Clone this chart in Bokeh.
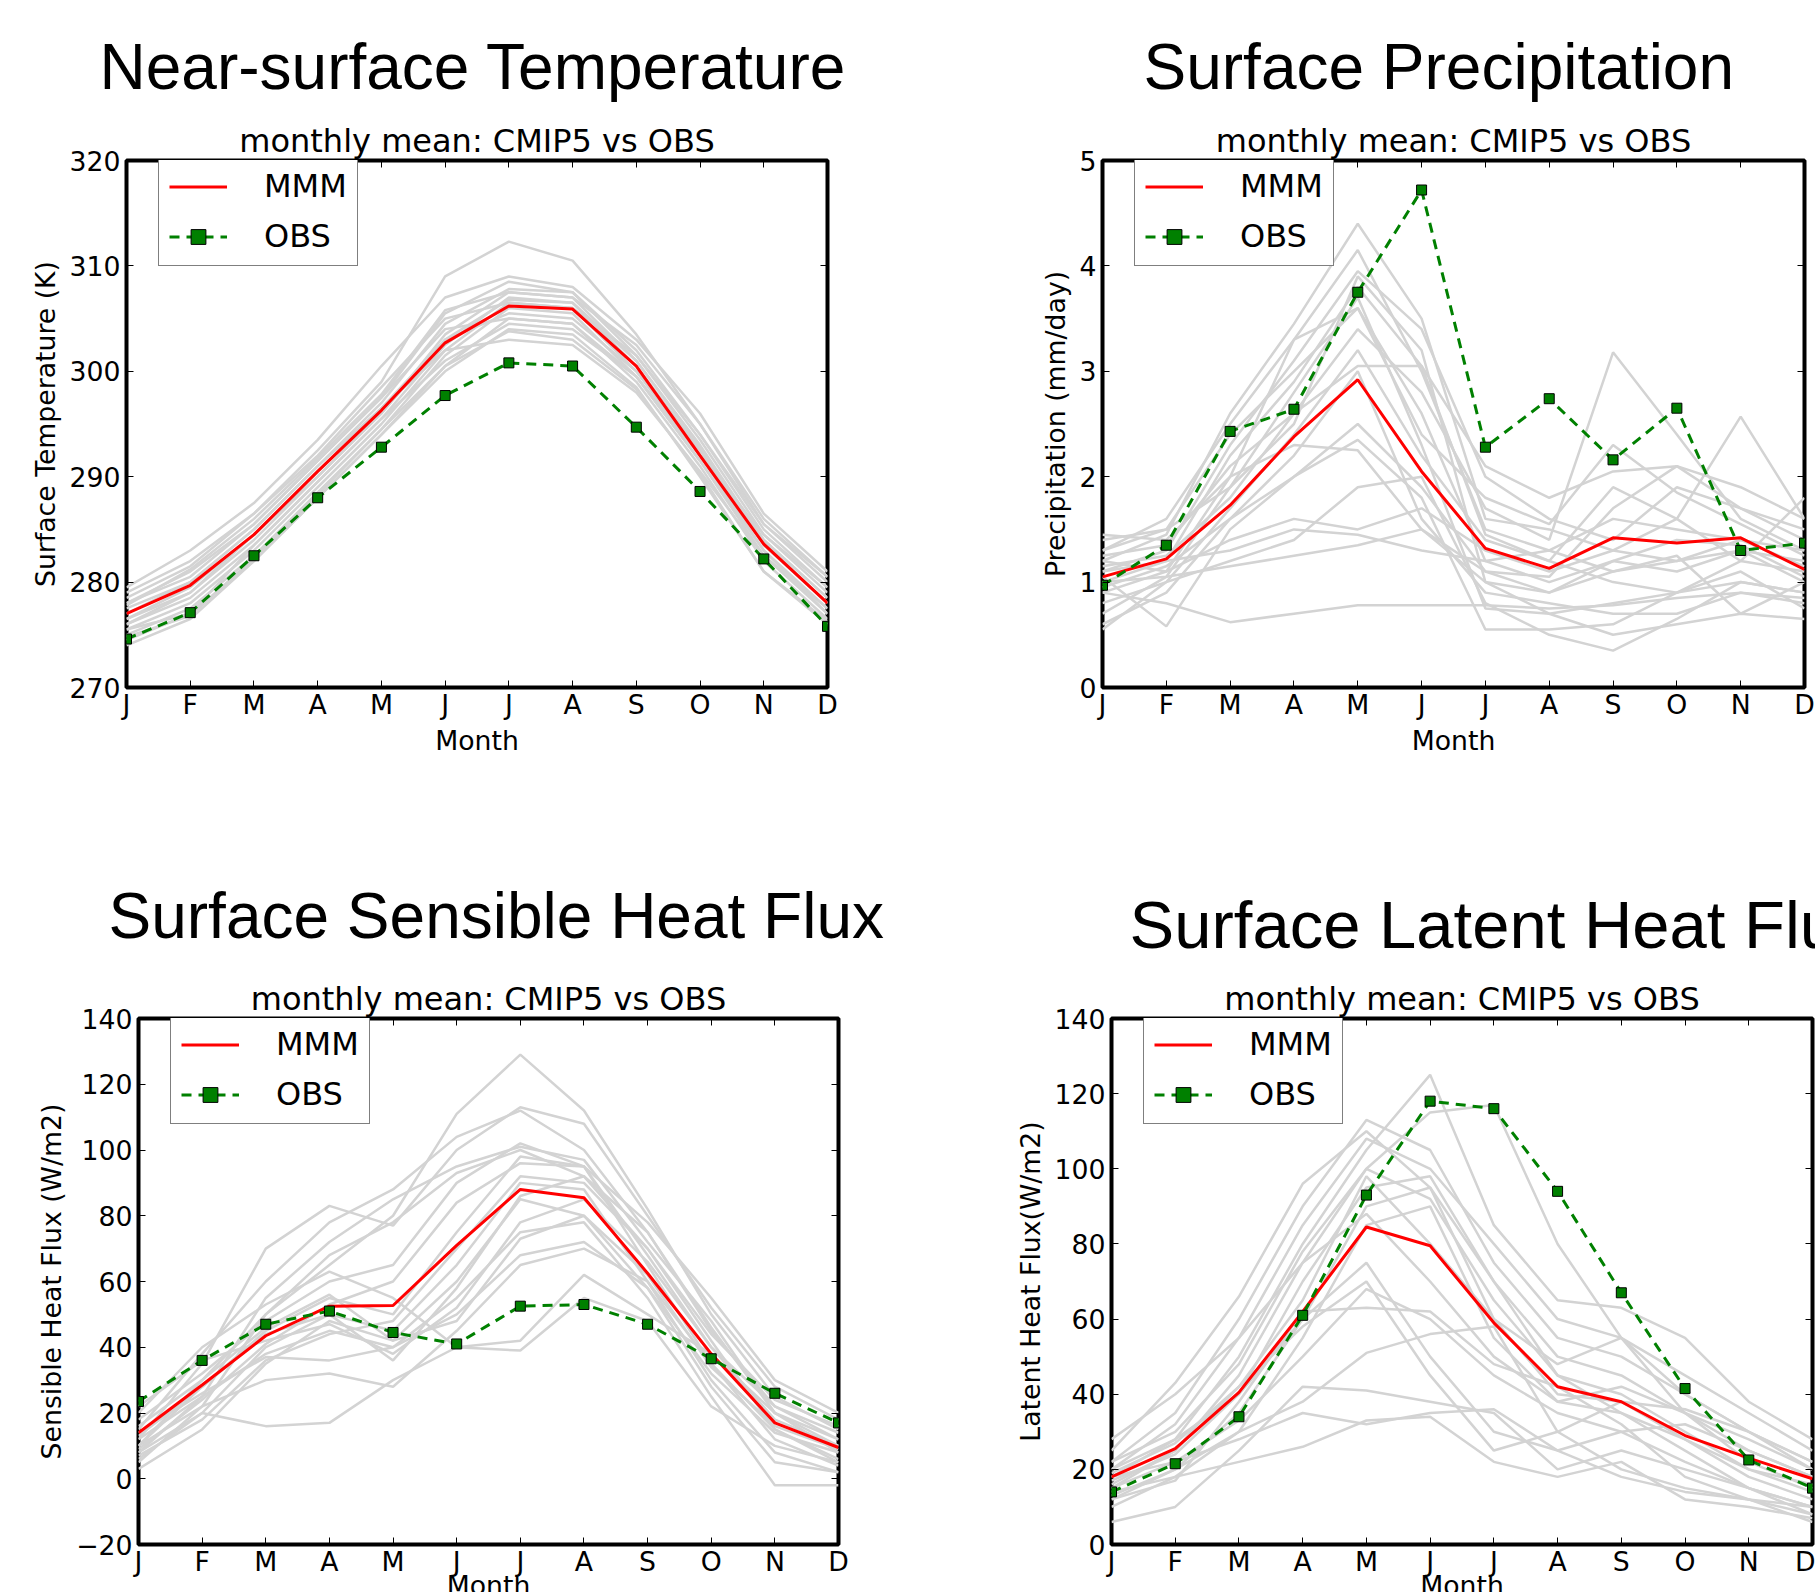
from bokeh.plotting import figure
from bokeh.models import Range1d, FixedTicker, LinearAxis, Legend, LegendItem, Title
from bokeh.layouts import column, row
from bokeh.embed import file_html
from bokeh.resources import INLINE

# ---------------- data ----------------
month_labels = ["J", "F", "M", "A", "M", "J", "J", "A", "S", "O", "N", "D"]
months = list(range(12))

# Near-surface temperature (K)
tas_mmm = [277.0, 279.7, 284.5, 290.5, 296.3, 302.7, 306.2, 305.9, 300.5, 292.0, 283.6, 278.0]
tas_obs = [274.6, 277.1, 282.5, 288.0, 292.8, 297.7, 300.8, 300.5, 294.7, 288.6, 282.2, 275.8]
tas_models = [
    [278.5, 281.5, 286.5, 292.5, 299.0, 309.0, 312.3, 310.5, 303.5, 295.0, 285.5, 280.0],
    [279.5, 283.0, 287.5, 293.5, 300.5, 307.0, 309.0, 308.0, 303.0, 296.0, 286.5, 281.0],
    [278.0, 280.5, 285.5, 291.5, 297.5, 305.5, 308.5, 307.5, 302.0, 294.0, 285.0, 279.5],
    [277.5, 280.0, 285.0, 291.0, 297.0, 304.5, 307.8, 307.5, 301.5, 293.5, 284.5, 279.0],
    [276.5, 279.0, 284.0, 290.0, 296.0, 303.5, 307.5, 307.0, 301.0, 293.0, 284.0, 278.5],
    [276.0, 278.5, 283.5, 289.5, 295.5, 302.5, 307.0, 306.5, 300.5, 292.5, 283.5, 278.0],
    [275.5, 278.0, 283.0, 289.0, 295.0, 302.0, 306.5, 306.0, 300.0, 292.0, 283.0, 277.5],
    [275.0, 277.5, 282.5, 288.5, 294.5, 301.5, 306.0, 305.5, 299.5, 291.5, 282.5, 277.0],
    [274.5, 277.0, 282.0, 288.0, 294.0, 300.5, 305.0, 304.5, 299.0, 291.0, 282.0, 276.5],
    [274.0, 276.5, 282.0, 288.0, 294.0, 300.0, 304.0, 303.5, 298.5, 290.0, 281.0, 276.0],
    [277.0, 280.0, 285.0, 291.0, 296.5, 303.0, 305.5, 305.0, 300.0, 292.5, 284.0, 278.5],
    [278.0, 281.0, 285.5, 291.5, 297.5, 304.0, 305.0, 304.5, 299.5, 292.0, 284.5, 279.5],
    [276.0, 279.0, 284.5, 290.5, 296.5, 302.0, 303.0, 302.5, 298.0, 290.5, 282.5, 277.5],
    [279.0, 282.0, 286.5, 292.0, 298.5, 305.0, 306.5, 306.0, 301.5, 294.0, 285.5, 280.5],
    [275.5, 277.0, 283.5, 289.5, 295.5, 301.0, 304.5, 304.0, 299.5, 291.5, 283.0, 277.0],
    [276.5, 279.5, 284.5, 290.0, 296.0, 303.0, 306.8, 306.5, 301.0, 292.8, 283.8, 278.0],
    [274.8, 276.8, 282.3, 288.3, 294.5, 300.5, 303.8, 303.0, 298.3, 290.3, 281.0, 276.3],
    [277.8, 281.2, 286.0, 291.8, 297.8, 305.8, 307.5, 307.0, 302.5, 295.0, 286.0, 280.5],
]

# Surface precipitation (mm/day)
pr_mmm = [1.05, 1.22, 1.73, 2.38, 2.92, 2.05, 1.32, 1.13, 1.42, 1.37, 1.42, 1.12]
pr_obs = [0.97, 1.35, 2.43, 2.64, 3.75, 4.72, 2.28, 2.74, 2.16, 2.65, 1.30, 1.37]
pr_models = [
    [1.20, 1.45, 2.60, 3.45, 4.40, 3.50, 1.60, 1.50, 1.30, 1.20, 1.30, 1.20],
    [1.30, 1.60, 2.50, 3.30, 4.15, 3.00, 1.50, 1.30, 1.60, 1.50, 1.40, 1.30],
    [1.10, 1.30, 2.30, 3.10, 3.95, 3.40, 2.00, 1.60, 1.40, 1.90, 1.70, 1.50],
    [1.00, 1.20, 2.20, 2.90, 3.80, 3.05, 2.10, 1.80, 2.05, 2.10, 1.90, 1.60],
    [0.90, 1.10, 2.00, 3.30, 3.60, 2.60, 1.20, 1.00, 1.20, 1.10, 1.30, 1.00],
    [1.40, 1.50, 1.90, 2.80, 3.70, 2.30, 0.75, 0.70, 0.80, 0.90, 1.00, 0.90],
    [1.15, 1.25, 1.80, 2.60, 3.40, 2.80, 1.70, 1.40, 3.18, 2.40, 1.60, 1.30],
    [0.80, 1.00, 1.70, 2.40, 3.20, 2.20, 1.40, 1.20, 1.00, 0.90, 1.20, 1.10],
    [0.60, 0.90, 1.60, 2.20, 3.00, 1.60, 0.90, 0.80, 0.70, 0.70, 0.90, 0.80],
    [1.05, 0.58, 1.50, 2.00, 2.50, 1.90, 1.10, 0.90, 1.10, 1.20, 1.40, 1.15],
    [1.20, 1.10, 1.40, 1.60, 1.50, 1.70, 1.30, 1.10, 1.30, 1.60, 2.57, 1.60],
    [0.55, 1.00, 1.20, 1.40, 1.90, 2.00, 0.80, 0.50, 0.35, 0.65, 1.00, 0.90],
    [0.90, 0.80, 0.62, 0.70, 0.78, 0.78, 0.78, 0.75, 0.78, 0.85, 0.90, 0.85],
    [1.00, 1.05, 1.15, 1.25, 1.35, 1.50, 1.00, 0.70, 0.50, 0.60, 0.70, 0.65],
    [1.45, 1.40, 2.00, 2.30, 2.25, 1.50, 1.10, 1.05, 1.70, 2.10, 1.70, 1.40],
    [1.25, 1.35, 2.10, 2.60, 3.05, 3.05, 1.45, 1.20, 1.90, 1.60, 1.20, 1.80],
    [0.95, 1.15, 1.60, 2.00, 2.35, 1.80, 0.55, 0.55, 0.60, 0.90, 1.10, 0.75],
    [1.30, 1.50, 2.40, 3.00, 3.60, 2.40, 1.80, 1.55, 2.30, 1.85, 1.55, 1.25],
    [1.10, 1.20, 1.30, 1.50, 1.45, 1.30, 1.20, 1.30, 1.10, 1.25, 0.70, 1.00],
    [0.70, 1.05, 1.90, 2.50, 3.90, 3.20, 1.00, 0.90, 1.20, 1.40, 1.35, 1.05],
]

# Surface sensible heat flux (W/m2)
hfss_mmm = [14.0, 28.5, 43.5, 52.5, 52.7, 71.0, 88.0, 85.5, 62.5, 38.0, 17.0, 9.5]
hfss_obs = [23.5, 36.0, 47.0, 51.0, 44.5, 41.0, 52.5, 53.0, 47.0, 36.5, 26.0, 17.0]
hfss_models = [
    [10, 30, 50, 65, 80, 111, 129, 112, 82, 50, 25, 15],
    [12, 35, 70, 83, 77, 100, 113, 108, 80, 52, 28, 18],
    [15, 38, 60, 78, 88, 104, 112, 100, 75, 45, 22, 12],
    [8, 25, 55, 72, 85, 95, 101, 97, 72, 48, 20, 8],
    [5, 22, 50, 68, 78, 93, 100, 92, 70, 42, 15, 5],
    [18, 32, 48, 60, 65, 90, 102, 95, 68, 40, 18, 10],
    [10, 28, 45, 55, 50, 75, 98, 95, 65, 35, 12, 4],
    [6, 20, 40, 50, 45, 65, 90, 88, 60, 30, 8, 2],
    [3, 15, 35, 48, 42, 60, 85, 80, 58, 28, 5, 2],
    [12, 25, 38, 45, 40, 55, 75, 78, 55, 25, -2, -2],
    [20, 40, 53, 63, 55, 40, 39, 55, 48, 22, 10, 5],
    [8, 20, 16, 17, 30, 40, 42, 62, 50, 38, 20, 12],
    [14, 26, 37, 36, 40, 50, 68, 72, 58, 32, 14, 8],
    [10, 22, 30, 32, 28, 45, 65, 70, 60, 35, 15, 6],
    [16, 30, 46, 56, 42, 48, 73, 80, 62, 34, 16, 9],
    [22, 36, 42, 47, 38, 52, 78, 85, 66, 40, 22, 14],
    [7, 18, 36, 44, 48, 70, 92, 90, 70, 44, 24, 16],
    [13, 28, 44, 50, 36, 58, 86, 92, 75, 46, 20, 10],
    [9, 24, 41, 53, 60, 84, 96, 95, 78, 55, 30, 20],
]

# Surface latent heat flux (W/m2)
hfls_mmm = [18.0, 25.5, 40.5, 62.0, 84.5, 79.5, 59.0, 42.0, 38.0, 29.0, 23.0, 17.5]
hfls_obs = [14.0, 21.5, 34.0, 61.0, 93.0, 118.0, 116.0, 94.0, 67.0, 41.5, 22.5, 15.0]
hfls_models = [
    [22, 35, 60, 90, 113, 105, 75, 55, 50, 40, 30, 22],
    [25, 43, 66, 96, 110, 95, 70, 50, 45, 35, 25, 18],
    [20, 32, 55, 85, 108, 100, 80, 60, 55, 45, 35, 25],
    [18, 28, 50, 80, 105, 125, 85, 65, 63, 55, 38, 28],
    [15, 25, 45, 75, 100, 115, 117, 80, 55, 35, 22, 15],
    [17, 24, 40, 70, 95, 98, 70, 45, 40, 30, 20, 14],
    [12, 20, 35, 60, 90, 95, 60, 40, 38, 28, 18, 12],
    [10, 18, 30, 55, 85, 90, 55, 38, 35, 25, 15, 10],
    [28, 40, 55, 75, 88, 70, 50, 38, 42, 35, 28, 20],
    [15, 22, 33, 50, 68, 60, 45, 35, 30, 22, 15, 10],
    [6, 10, 25, 42, 41, 38, 35, 20, 25, 20, 15, 8],
    [13, 20, 30, 38, 51, 56, 58, 30, 20, 15, 12, 8],
    [18, 22, 28, 35, 32, 35, 36, 25, 18, 14, 12, 6],
    [14, 18, 22, 26, 33, 34, 22, 18, 22, 12, 10, 7],
    [20, 28, 40, 60, 75, 50, 30, 25, 30, 32, 25, 18],
    [16, 25, 42, 65, 98, 80, 60, 48, 55, 40, 30, 20],
    [12, 17, 38, 62, 63, 62, 48, 42, 32, 18, 12, 10],
    [22, 30, 48, 78, 100, 92, 65, 45, 35, 28, 20, 16],
    [19, 27, 42, 58, 70, 45, 25, 30, 38, 36, 30, 22],
]

tas_ticks = [270, 280, 290, 300, 310, 320]
pr_ticks = [0, 1, 2, 3, 4, 5]
hfss_ticks = [-20, 0, 20, 40, 60, 80, 100, 120, 140]
hfls_ticks = [0, 20, 40, 60, 80, 100, 120, 140]

subtitle = "monthly mean: CMIP5 vs OBS"

TICK_FONT = "26.7px"
FONT = "DejaVu Sans"
TITLE_FONT = "Liberation Sans"


def style_axis(ax, ticks, overrides):
    ax.ticker = FixedTicker(ticks=ticks)
    ax.major_label_overrides = overrides
    ax.major_tick_in = 7
    ax.major_tick_out = 0
    ax.minor_tick_line_color = None
    ax.major_tick_line_color = "black"
    ax.major_tick_line_width = 1
    ax.axis_line_color = None
    ax.major_label_text_font = FONT
    ax.major_label_text_font_size = TICK_FONT
    ax.major_label_text_color = "black"
    ax.axis_label_text_font = FONT
    ax.axis_label_text_font_size = TICK_FONT
    ax.axis_label_text_font_style = "normal"
    ax.axis_label_text_color = "black"


def panel(width, height, bl, br, bt, bb, yr, yticks, models, mmm, obs, ylabel,
          title, title_size, title_offset, title_standoff, month_below):
    p = figure(width=width, height=height, x_range=Range1d(0, 11), y_range=Range1d(*yr),
               output_backend="svg", toolbar_location=None,
               min_border_left=bl, min_border_right=br, min_border_top=bt, min_border_bottom=bb)
    p.grid.visible = False
    p.outline_line_color = "black"
    p.outline_line_width = 4
    p.background_fill_color = "white"
    p.border_fill_color = "white"

    xover = {m: month_labels[m] for m in months}
    yover = {t: (("\u2212" + str(-t)) if t < 0 else str(t)) for t in yticks}
    style_axis(p.xaxis[0], months, xover)
    style_axis(p.yaxis[0], yticks, yover)
    p.xaxis[0].major_label_standoff = 1
    p.yaxis[0].major_label_standoff = 6
    p.yaxis[0].axis_label = ylabel
    p.yaxis[0].axis_label_standoff = 6
    if not month_below:
        p.xaxis[0].axis_label = "Month"
        p.xaxis[0].axis_label_standoff = 2

    top = LinearAxis()
    style_axis(top, months, {m: "" for m in months})
    top.major_label_standoff = 0
    p.add_layout(top, "above")
    right = LinearAxis()
    style_axis(right, yticks, {t: "" for t in yticks})
    right.major_label_standoff = 0
    p.add_layout(right, "right")

    for m in models:
        p.line(months, m, line_color="#d3d3d3", line_width=2.5)
    r_mmm = p.line(months, mmm, line_color="red", line_width=3)
    r_obs = p.line(months, obs, line_color="green", line_width=3, line_dash="10 7")
    r_pts = p.scatter(months, obs, marker="square", size=10, fill_color="green",
                      line_color="black", line_width=1)

    sub = Title(text=subtitle, align="center", text_font=FONT, text_font_size="32px",
                text_font_style="normal", text_color="black", standoff=2)
    p.add_layout(sub, "above")
    big = Title(text=title, align="left", offset=title_offset, text_font=TITLE_FONT,
                text_font_size=title_size, text_font_style="normal", text_color="black",
                standoff=title_standoff)
    p.add_layout(big, "above")

    frame_h = height - bt - bb
    legend = Legend(items=[LegendItem(label="MMM", renderers=[r_mmm]),
                           LegendItem(label="OBS", renderers=[r_obs, r_pts])],
                    location=(32, frame_h - 106), margin=0, padding=10, spacing=12,
                    glyph_width=58, glyph_height=37, label_height=37, label_standoff=37,
                    label_text_font=FONT, label_text_font_size="32px", label_text_color="black",
                    border_line_color="black", border_line_width=1,
                    background_fill_color="white", background_fill_alpha=1.0)
    p.add_layout(legend)

    if month_below:
        mt = Title(text="Month", align="center", vertical_align="top", text_font=FONT,
                   text_font_size=TICK_FONT, text_font_style="normal", text_color="black",
                   standoff=-20)
        p.add_layout(mt, "below")
    return p


p1 = panel(960, 800, 126, 133, 160, 113, (270, 320), tas_ticks, tas_models, tas_mmm, tas_obs,
           "Surface Temperature (K)", "Near-surface Temperature", "64px", -27, 32, False)
p2 = panel(855, 800, 142, 11, 160, 113, (0, 5), pr_ticks, pr_models, pr_mmm, pr_obs,
           "Precipitation (mm/day)", "Surface Precipitation", "64px", 41, 32, False)
p3 = panel(960, 792, 138, 122, 218, 48, (-20, 140), hfss_ticks, hfss_models, hfss_mmm, hfss_obs,
           "Sensible Heat Flux (W/m2)", "Surface Sensible Heat Flux", "64px", -30, 50, True)
p4 = panel(855, 792, 151, 3, 218, 48, (0, 140), hfls_ticks, hfls_models, hfls_mmm, hfls_obs,
           "Latent Heat Flux(W/m2)", "Surface Latent Heat Flux", "67px", 18, 30, True)

layout = column(row(p1, p2, spacing=0), row(p3, p4, spacing=0), spacing=0)
open("out.html", "w").write(file_html(layout, INLINE))
